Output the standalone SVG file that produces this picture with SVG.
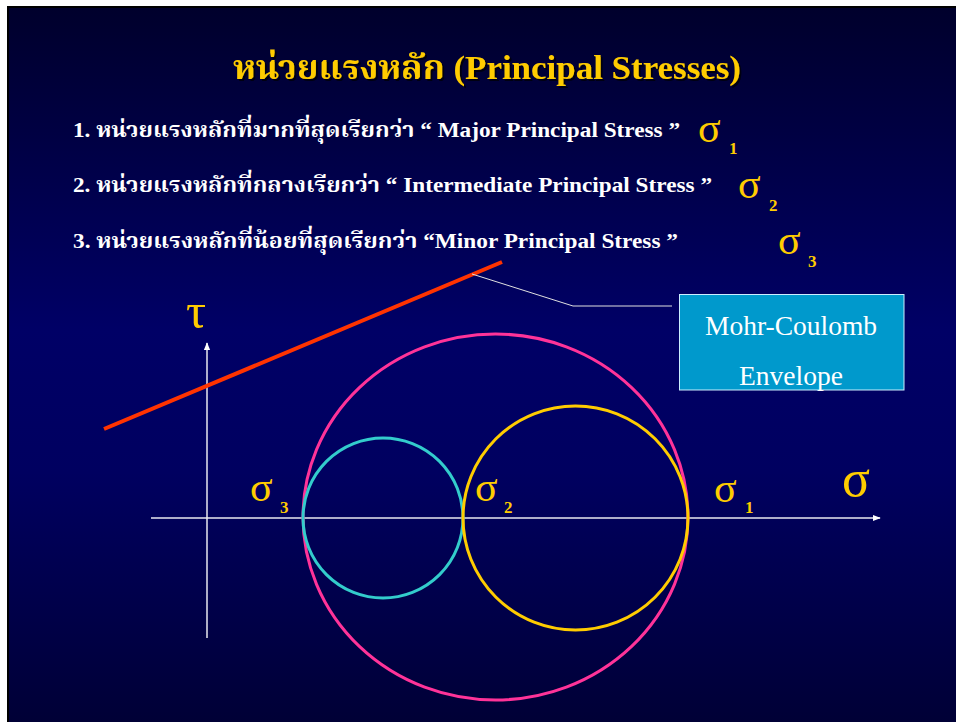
<svg xmlns="http://www.w3.org/2000/svg" width="956" height="722" viewBox="0 0 956 722">
<defs>
<linearGradient id="bg" x1="0" y1="0" x2="0" y2="1">
<stop offset="0" stop-color="#00002c"/>
<stop offset="0.45" stop-color="#000066"/>
<stop offset="0.65" stop-color="#000060"/>
<stop offset="1" stop-color="#000036"/>
</linearGradient>
<filter id="shd" x="-5%" y="-20%" width="110%" height="150%">
<feDropShadow dx="2" dy="2" stdDeviation="0.5" flood-color="#000000" flood-opacity="0.7"/>
</filter>
<marker id="arr" viewBox="0 0 10 10" refX="9" refY="5" markerWidth="8" markerHeight="8" markerUnits="userSpaceOnUse" orient="auto">
<path d="M0,1 L10,5 L0,9 Z" fill="#ffffff"/>
</marker>
</defs>
<style>
.thai{font-family:"Liberation Serif","Noto Serif Thai","Noto Sans Thai",serif;font-weight:bold}
.body{font-size:21px;fill:#ffffff}
.sym{font-family:"Liberation Serif","DejaVu Serif",serif;fill:#ffcc00}
.sub{font-family:"Liberation Serif",serif;font-weight:bold;fill:#ffcc00;font-size:17px}
.box{font-family:"Liberation Serif",serif;font-size:27.5px;fill:#ffffff}
.axis{stroke:#e8e8f0;stroke-width:1.5;fill:none}
</style>
<rect x="0" y="0" width="956" height="722" fill="#ffffff"/>
<rect x="7" y="6" width="949" height="716" fill="#000000"/>
<rect x="9" y="8" width="947" height="714" fill="url(#bg)"/>

<g id="title">
<text class="thai" x="233" y="79" font-size="33" fill="#ffcc00" filter="url(#shd)" textLength="508" lengthAdjust="spacingAndGlyphs">หน่วยแรงหลัก (Principal Stresses)</text>
</g>

<g id="line1">
<text class="thai body" x="73" y="137" textLength="607" lengthAdjust="spacingAndGlyphs">1. หน่วยแรงหลักที่มากที่สุดเรียกว่า “ Major Principal Stress ”</text>
<text class="sym" x="698" y="142" font-size="42">σ</text>
<text class="sub" x="729" y="154">1</text>
</g>
<g id="line2">
<text class="thai body" x="73" y="192" textLength="639" lengthAdjust="spacingAndGlyphs">2. หน่วยแรงหลักที่กลางเรียกว่า “ Intermediate Principal Stress ”</text>
<text class="sym" x="738" y="198" font-size="42">σ</text>
<text class="sub" x="769" y="211">2</text>
</g>
<g id="line3">
<text class="thai body" x="73" y="248" textLength="605" lengthAdjust="spacingAndGlyphs">3. หน่วยแรงหลักที่น้อยที่สุดเรียกว่า “Minor Principal Stress ”</text>
<text class="sym" x="778" y="254" font-size="42">σ</text>
<text class="sub" x="808" y="267">3</text>
</g>

<g id="axes">
<line class="axis" x1="151" y1="518" x2="880" y2="518" marker-end="url(#arr)"/>
<line class="axis" x1="207" y1="638" x2="207" y2="343" marker-end="url(#arr)"/>
</g>

<g id="circles" fill="none" stroke-width="3">
<ellipse id="circle-pink" cx="495.5" cy="517" rx="192.5" ry="183" stroke="#ff3399"/>
<ellipse id="circle-cyan" cx="383" cy="518" rx="80" ry="80" stroke="#33cccc"/>
<ellipse id="circle-yellow" cx="575.5" cy="518" rx="112.5" ry="112" stroke="#ffcc00"/>
</g>

<g id="envelope">
<line x1="104" y1="429" x2="502" y2="262" stroke="#ff3300" stroke-width="4"/>
</g>

<g id="connectors">
<polyline points="472,274 573,306 672,306" fill="none" stroke="#e0e0e0" stroke-width="1"/>
</g>

<g id="label-box">
<rect x="679.5" y="294.5" width="224.5" height="95.5" fill="#0099cc" stroke="#cceeff" stroke-width="1"/>
<text class="box" x="791" y="335" text-anchor="middle">Mohr-Coulomb</text>
<text class="box" x="791" y="385" text-anchor="middle">Envelope</text>
</g>

<g id="axis-labels">
<text class="sym" x="186" y="328" font-size="50">τ</text>
<text class="sym" x="842" y="496" font-size="52">σ</text>
<text class="sym" x="250" y="501" font-size="42">σ</text>
<text class="sub" x="280" y="513">3</text>
<text class="sym" x="475" y="501" font-size="42">σ</text>
<text class="sub" x="504" y="513">2</text>
<text class="sym" x="714" y="502" font-size="42">σ</text>
<text class="sub" x="745" y="513">1</text>
</g>
</svg>
